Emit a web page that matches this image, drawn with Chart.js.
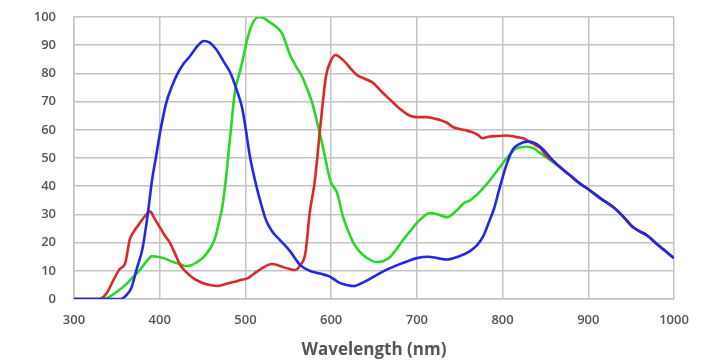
<!DOCTYPE html>
<html>
<head>
<meta charset="utf-8">
<script src="https://cdn.jsdelivr.net/npm/chart.js@4"></script>
<style>
  html, body { margin: 0; padding: 0; background: #fff; }
  canvas { display: block; }
</style>
</head>
<body>
<canvas id="spectrum" width="728" height="362"></canvas>
<script>
// shared tail where all three curves run together above ~870 nm
const tailNm  = [870, 880, 890, 902, 915, 929, 940, 952, 960, 968, 980, 990, 1000];
const tailVal = [46, 43.5, 41, 38.5, 35.5, 32.6, 29.5, 25.5, 24, 22.7, 19.5, 17, 14.5];

const blueNm  = [300, 355, 360, 367, 373, 380, 386, 391, 396, 401, 408, 415, 421, 428, 435, 445, 451, 458, 466, 475, 482, 490, 496, 500, 505, 512, 518, 524, 531, 540, 552, 564, 575, 587, 598, 610, 618, 626, 638, 649, 662, 677, 690, 700, 713, 724, 735, 748, 762, 770, 777, 785, 790, 795, 799, 805, 812, 820, 829, 836, 844, 852, 859];
const blueVal = [0, 0, 1, 4, 10.5, 18, 30, 42, 51, 60, 70, 76, 80, 83.5, 86, 90, 91.5, 91, 88.5, 84, 80.5, 74, 68, 61, 51, 41, 34, 28, 24, 21, 17, 12, 10, 9, 8, 5.7, 5, 4.6, 6, 7.8, 10, 12, 13.5, 14.5, 15, 14.5, 14, 15, 17, 19, 22, 28, 32, 37.6, 42, 48, 53, 55, 55.8, 55.5, 54, 51.5, 49];

const greenNm  = [300, 335, 345, 352, 360, 368, 377, 385, 391, 397, 404, 416, 424, 430, 437, 443, 450, 456, 461, 465, 469, 473, 477, 482, 488, 493, 497, 502, 508, 515, 522, 529, 536, 543, 548, 552, 559, 566, 572, 578, 585, 591, 599, 607, 614, 620, 626, 634, 642, 653, 661, 669, 677, 684, 692, 700, 707, 715, 725, 735, 745, 755, 762, 770, 778, 785, 795, 805, 817, 830, 837, 844, 852, 859];
const greenVal = [0, 0, 1.5, 3, 5, 7.5, 10.3, 13.5, 15.2, 15, 14.5, 13.1, 12.3, 11.7, 12, 13, 14.5, 16.7, 19, 22, 27, 32.6, 42, 57, 74, 80, 85, 92, 97.5, 100, 99.5, 98, 96.5, 94, 90, 86.5, 82.5, 79, 74.5, 69.5, 61, 53, 42, 37.6, 29, 24, 19.9, 16.5, 14.5, 13.1, 13.5, 15, 18, 21, 24, 27, 29, 30.5, 30, 29, 31, 34, 35, 37, 39.5, 42, 46, 50, 53.5, 54, 53.3, 51.7, 50, 48.5];

const redNm  = [300, 330, 338, 346, 353, 360, 365, 370, 377, 383, 389, 394, 400, 406, 412, 418, 424, 431, 439, 450, 460, 467, 476, 486, 494, 503, 508, 513, 520, 526, 531, 538, 544, 551, 558, 564, 570, 575, 581, 587, 594, 599, 605, 614, 622, 630, 640, 649, 659, 669, 680, 692, 702, 712, 720, 727, 735, 742, 754, 766, 772, 776, 785, 795, 805, 815, 824, 830, 836, 844, 852, 859];
const redVal = [0, 0, 2, 6.7, 10.5, 13, 21, 24, 27, 29.5, 31, 28.5, 25.5, 22.5, 19.9, 16, 12, 9.5, 7.4, 5.7, 4.9, 4.6, 5.2, 6, 6.7, 7.4, 8.5, 9.6, 11, 12, 12.4, 12, 11.3, 10.7, 10.3, 12, 16.3, 30.5, 42, 60, 79, 84, 86.5, 84.7, 82, 79.4, 78, 76.6, 73.5, 70.6, 67.5, 65, 64.5, 64.5, 64, 63.5, 62.5, 61, 60, 59, 58, 57, 57.6, 57.8, 58, 57.5, 57, 56, 55, 53.5, 50.5, 49];

const xTicks = [300, 400, 500, 600, 700, 800, 900, 1000];
const yTicks = [0, 10, 20, 30, 40, 50, 60, 70, 80, 90, 100];

function pts(nm, val) {
  return nm.concat(tailNm).map((x, i) => ({ x: x, y: val.concat(tailVal)[i] }));
}

function line(label, nm, val, color) {
  return {
    label: label,
    data: pts(nm, val),
    borderColor: color,
    borderWidth: 2.6,
    pointRadius: 0,
    cubicInterpolationMode: 'monotone',
    fill: false
  };
}

const gridColor = '#c4c4c4';
const tickFont = { family: 'Open Sans', size: 13, weight: '600' };

new Chart(document.getElementById('spectrum'), {
  type: 'line',
  data: {
    datasets: [
      line('Blue', blueNm, blueVal, 'rgb(35,40,230)'),
      line('Red', redNm, redVal, 'rgb(220,40,40)'),
      line('Green', greenNm, greenVal, 'rgb(40,215,40)')
    ]
  },
  options: {
    responsive: false,
    animation: false,
    layout: { padding: { top: 17, right: 54, left: 0, bottom: 0 } },
    plugins: { legend: { display: false }, tooltip: { enabled: false } },
    scales: {
      x: {
        type: 'linear',
        min: 300,
        max: 1000,
        afterBuildTicks: s => { s.ticks = xTicks.map(v => ({ value: v })); },
        afterFit: s => { s.height = 63; s.paddingLeft = 0; s.paddingRight = 0; },
        grid: { color: gridColor, lineWidth: 1.5, drawTicks: false },
        border: { color: gridColor, width: 1.5 },
        ticks: { color: '#555', font: tickFont, padding: 13, maxRotation: 0, callback: v => String(v) },
        title: {
          display: true,
          text: 'Wavelength (nm)',
          color: '#555',
          font: { family: 'Open Sans', size: 17, weight: 'bold' },
          padding: { top: 0, bottom: 2 }
        }
      },
      y: {
        min: 0,
        max: 100,
        afterBuildTicks: s => { s.ticks = yTicks.map(v => ({ value: v })); },
        afterFit: s => { s.width = 74; s.paddingTop = 0; s.paddingBottom = 0; },
        grid: { color: gridColor, lineWidth: 1.5, drawTicks: false },
        border: { color: gridColor, width: 1.5 },
        ticks: { color: '#555', font: tickFont, padding: 18, callback: v => String(v) }
      }
    }
  }
});
</script>
</body>
</html>
